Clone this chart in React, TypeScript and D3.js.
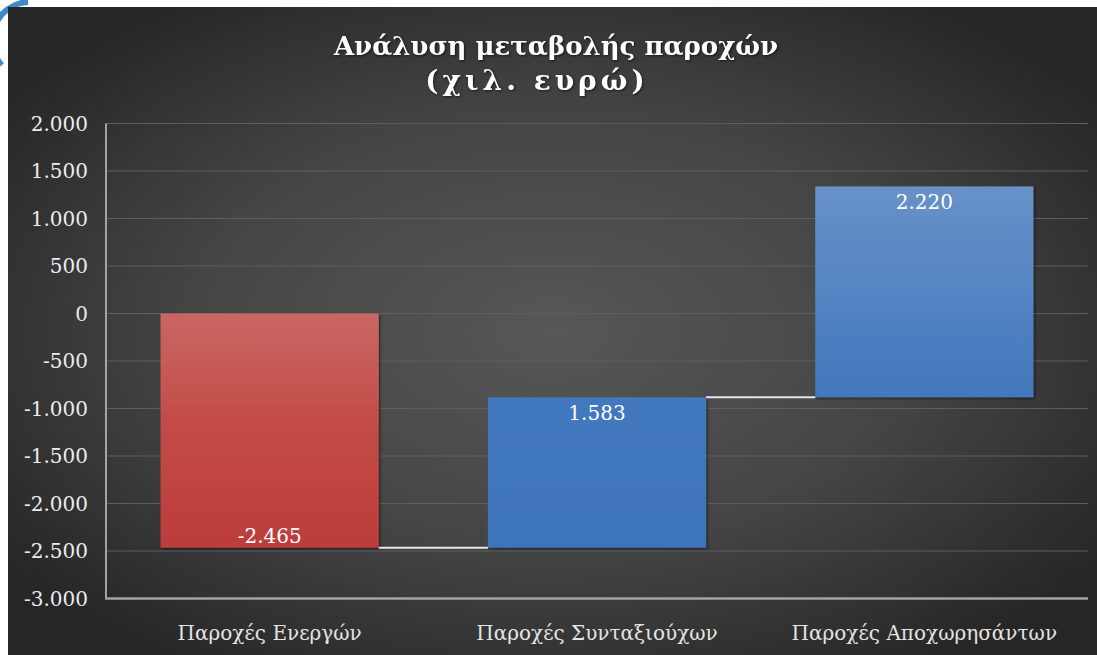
import React from "react";
import * as d3 from "d3";

const categories = ["Παροχές Ενεργών", "Παροχές Συνταξιούχων", "Παροχές Αποχωρησάντων"];
const changes = [-2465, 1583, 2220];
const yTicks = [-3000, -2500, -2000, -1500, -1000, -500, 0, 500, 1000, 1500, 2000];
const titleLines = ["Ανάλυση μεταβολής παροχών", "(χιλ. ευρώ)"];

const W = 1097;
const H = 655;
const FONT = "'DejaVu Serif', 'Liberation Serif', serif";

const locale = d3.formatLocale({ decimal: ",", thousands: ".", grouping: [3], currency: ["", "€"], minus: "-" });
const fmt = locale.format(",d");

export default function App() {
  const x = d3.scaleBand<string>()
    .domain(categories)
    .range([106, 1088])
    .paddingInner(1 / 3)
    .paddingOuter(1 / 6);

  const y = d3.scaleLinear().domain([-3000, 2000]).range([598.5, 123.5]);

  // running totals for the waterfall
  let run = 0;
  const bars = changes.map((v, i) => {
    const start = run;
    run += v;
    return { cat: categories[i], v, start, end: run };
  });

  // decorative arc peeking out behind the panel (top-left corner)
  const arc = d3.arc()({ innerRadius: 35, outerRadius: 41, startAngle: -2.3, endAngle: -0.05 } as any);

  return (
    <svg width={W} height={H} style={{ position: "absolute", left: 0, top: 0 }}>
      <defs>
        <radialGradient id="bg" cx="0.5" cy="0.5" r="0.62" gradientUnits="objectBoundingBox">
          <stop offset="0" stopColor="#575757" />
          <stop offset="0.55" stopColor="#444444" />
          <stop offset="1" stopColor="#262626" />
        </radialGradient>
        <linearGradient id="blue" gradientUnits="userSpaceOnUse" x1="0" y1={y(2000)} x2="0" y2={y(-3000)}>
          <stop offset="0" stopColor="#7099cc" />
          <stop offset="0.15" stopColor="#6690c8" />
          <stop offset="0.55" stopColor="#4479be" />
          <stop offset="1" stopColor="#3b72b9" />
        </linearGradient>
        <linearGradient id="red" gradientUnits="userSpaceOnUse" x1="0" y1={y(0)} x2="0" y2={y(-2465)}>
          <stop offset="0" stopColor="#c96763" />
          <stop offset="0.5" stopColor="#c24a46" />
          <stop offset="1" stopColor="#bc3d3b" />
        </linearGradient>
        <filter id="sh" x="-5%" y="-5%" width="110%" height="110%">
          <feDropShadow dx="1.5" dy="1.5" stdDeviation="1.2" floodColor="#000" floodOpacity="0.45" />
        </filter>
      </defs>

      <rect x={0} y={0} width={W} height={H} fill="#ffffff" />
      <path d={arc ?? ""} transform="translate(30,40)" fill="#3d89cc" />
      <rect x={8} y={7} width={W - 8} height={H - 7} fill="url(#bg)" />

      {yTicks.map(t => (
        <line key={"g" + t} x1={106} x2={1088} y1={y(t)} y2={y(t)} stroke="#5e5e5e" strokeWidth={1.2} />
      ))}

      {bars.map((b, i) => {
        const top = y(Math.max(b.start, b.end));
        const bot = y(Math.min(b.start, b.end));
        return (
          <rect key={"b" + i} x={x(b.cat)} y={top} width={x.bandwidth()} height={bot - top}
            fill={b.v < 0 ? "url(#red)" : "url(#blue)"} filter="url(#sh)" />
        );
      })}

      {bars.slice(0, -1).map((b, i) => (
        <line key={"c" + i} x1={(x(b.cat) ?? 0) + x.bandwidth()} x2={x(bars[i + 1].cat)}
          y1={y(b.end)} y2={y(b.end)} stroke="#e6e6e6" strokeWidth={2} />
      ))}

      <line x1={106} x2={106} y1={y(2000)} y2={y(-3000)} stroke="#a3a3a3" strokeWidth={2} />
      <line x1={105} x2={1088} y1={y(-3000)} y2={y(-3000)} stroke="#a3a3a3" strokeWidth={2.5} />

      {yTicks.map(t => (
        <text key={"t" + t} x={88} y={y(t)} dy="0.35em" textAnchor="end" fontFamily={FONT}
          fontSize={20} fill="#ececec">{fmt(t)}</text>
      ))}

      {categories.map(c => (
        <text key={c} x={(x(c) ?? 0) + x.bandwidth() / 2} y={640} textAnchor="middle" fontFamily={FONT}
          fontSize={20} fill="#e4e4e4">{c}</text>
      ))}

      {bars.map((b, i) => {
        const cx = (x(b.cat) ?? 0) + x.bandwidth() / 2;
        const ly = b.v < 0 ? y(b.end) - 5 : y(b.end) + 23;
        return (
          <text key={"l" + i} x={cx} y={ly} textAnchor="middle" fontFamily={FONT}
            fontSize={20} fill="#ffffff">{fmt(b.v)}</text>
        );
      })}

      <g style={{ filter: "drop-shadow(1px 1px 1px rgba(0,0,0,0.6))" }}>
        <text x={556} y={55} textAnchor="middle" fontFamily={FONT} fontWeight="bold"
          fontSize={26} fill="#ffffff">{titleLines[0]}</text>
        <text x={537} y={90} textAnchor="middle" fontFamily={FONT} fontWeight="bold"
          fontSize={28} letterSpacing={4} fill="#ffffff">{titleLines[1]}</text>
      </g>
    </svg>
  );
}
